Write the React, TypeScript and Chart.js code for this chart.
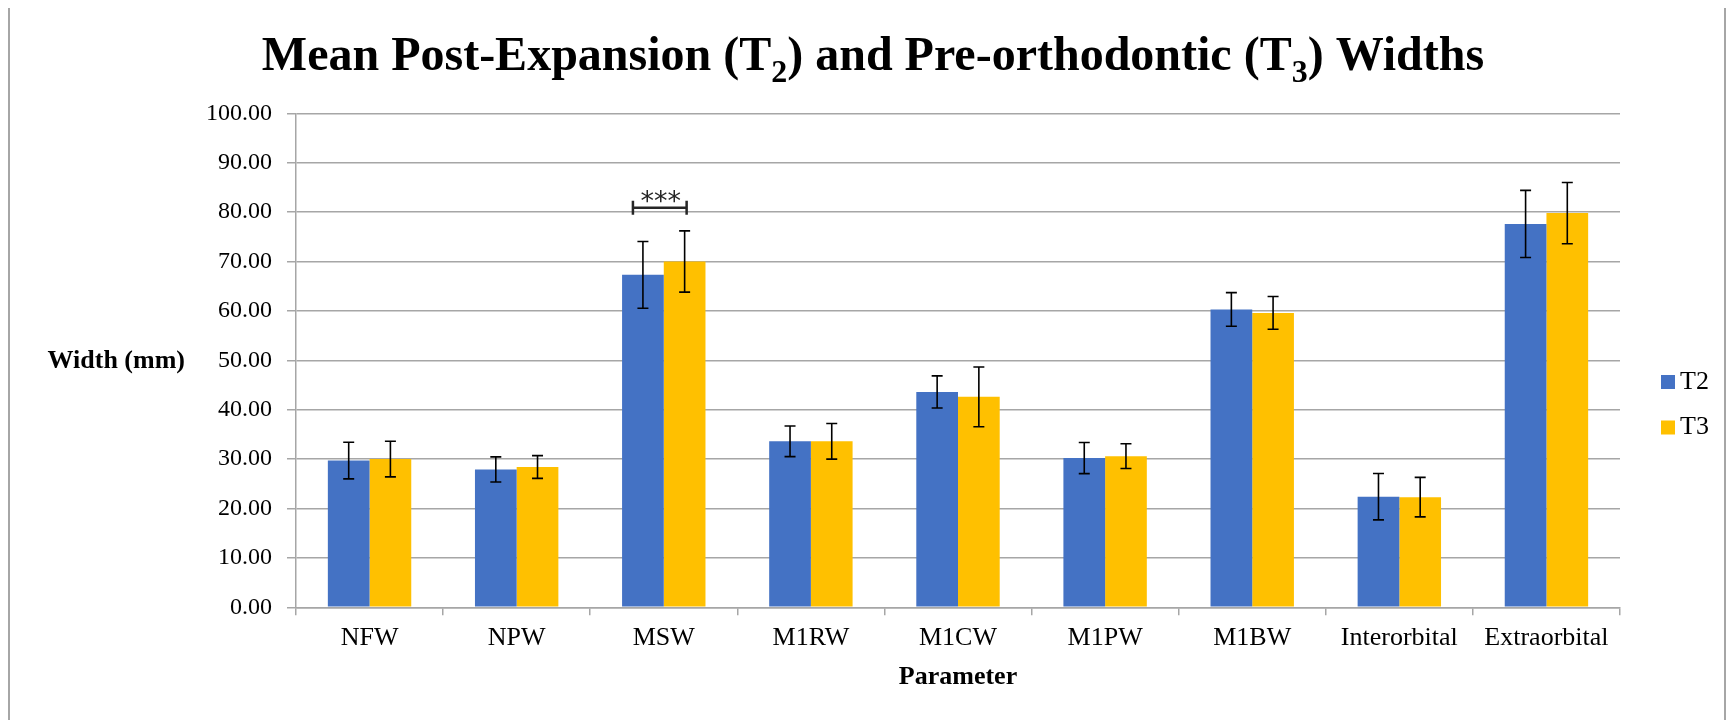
import React, { useEffect, useRef } from "react";
import { Chart, registerables } from "chart.js";

Chart.register(...registerables);

// ---- Data ----
const categories = ["NFW", "NPW", "MSW", "M1RW", "M1CW", "M1PW", "M1BW", "Interorbital", "Extraorbital"];
const seriesNames = ["T2", "T3"];
const t2Means = [29.7, 27.9, 67.3, 33.6, 43.6, 30.2, 60.3, 22.4, 77.6];
const t3Means = [30.0, 28.4, 70.0, 33.6, 42.6, 30.6, 59.6, 22.3, 79.8];
const t2Errors = [3.7, 2.55, 6.75, 3.1, 3.25, 3.15, 3.4, 4.7, 6.8];
const t3Errors = [3.6, 2.3, 6.2, 3.6, 6.05, 2.5, 3.3, 4.0, 6.2];
const significanceCategories = ["MSW"];
const significanceValues = [80.9];
const significanceLabels = ["***"];
const yMin = 0;
const yMax = 100;
const yStep = 10;
const titleParts = [
  { text: "Mean Post-Expansion (T", sub: false },
  { text: "2", sub: true },
  { text: ") and Pre-orthodontic (T", sub: false },
  { text: "3", sub: true },
  { text: ") Widths", sub: false },
];
const yAxisTitle = "Width (mm)";
const xAxisTitle = "Parameter";

const BLUE = "#4472C4";
const GOLD = "#FFC000";
const GRID = "#a6a6a6";
const SERIF = "'Liberation Serif', 'Times New Roman', serif";

const errorsBySeries = [t2Errors, t3Errors];
const colors = [BLUE, GOLD];

const decorPlugin = {
  id: "decor",
  afterDatasetsDraw(chart: any) {
    const ctx = chart.ctx;
    const ys = chart.scales.y;
    // error bars
    ctx.save();
    ctx.strokeStyle = "#000";
    ctx.lineWidth = 1.6;
    errorsBySeries.forEach((errs, di) => {
      const meta = chart.getDatasetMeta(di);
      meta.data.forEach((bar: any, i: number) => {
        const v = chart.data.datasets[di].data[i] as number;
        const e = errs[i];
        const yt = ys.getPixelForValue(v + e);
        const yb = ys.getPixelForValue(v - e);
        const x = bar.x;
        ctx.beginPath();
        ctx.moveTo(x, yt);
        ctx.lineTo(x, yb);
        ctx.moveTo(x - 5.5, yt);
        ctx.lineTo(x + 5.5, yt);
        ctx.moveTo(x - 5.5, yb);
        ctx.lineTo(x + 5.5, yb);
        ctx.stroke();
      });
    });
    ctx.restore();

    // significance brackets
    significanceCategories.forEach((cat, k) => {
      const idx = categories.indexOf(cat);
      const b0 = chart.getDatasetMeta(0).data[idx];
      const b1 = chart.getDatasetMeta(1).data[idx];
      const left = b0.x - 10;
      const right = b1.x + 2;
      const y = ys.getPixelForValue(significanceValues[k]);
      ctx.save();
      ctx.strokeStyle = "#262626";
      ctx.lineWidth = 2.5;
      ctx.beginPath();
      ctx.moveTo(left, y);
      ctx.lineTo(right, y);
      ctx.moveTo(left, y - 7);
      ctx.lineTo(left, y + 7);
      ctx.moveTo(right, y - 7);
      ctx.lineTo(right, y + 7);
      ctx.stroke();
      ctx.fillStyle = "#262626";
      ctx.font = "27px 'DejaVu Sans', sans-serif";
      ctx.textAlign = "center";
      ctx.textBaseline = "alphabetic";
      ctx.fillText(significanceLabels[k], (left + right) / 2 + 1, y + 2);
      ctx.restore();
    });
  },
  afterDraw(chart: any) {
    const ctx = chart.ctx;
    const area = chart.chartArea;
    ctx.save();
    // title with subscripts
    const mainFont = `bold 48px ${SERIF}`;
    const subFont = `bold 32px ${SERIF}`;
    let total = 0;
    const widths = titleParts.map((p) => {
      ctx.font = p.sub ? subFont : mainFont;
      const w = ctx.measureText(p.text).width;
      total += w;
      return w;
    });
    let x = chart.width / 2 + 6 - total / 2;
    const baseY = 63;
    ctx.fillStyle = "#000";
    ctx.textAlign = "left";
    ctx.textBaseline = "alphabetic";
    titleParts.forEach((p, i) => {
      ctx.font = p.sub ? subFont : mainFont;
      ctx.fillText(p.text, x, p.sub ? baseY + 12 : baseY);
      x += widths[i];
    });

    // y axis title (horizontal)
    ctx.font = `bold 26px ${SERIF}`;
    ctx.textAlign = "right";
    ctx.textBaseline = "middle";
    ctx.fillText(yAxisTitle, area.left - 111, (area.top + area.bottom) / 2 + 1);

    // x axis title
    ctx.textAlign = "center";
    ctx.font = `bold 26px ${SERIF}`;
    ctx.fillText(xAxisTitle, (area.left + area.right) / 2, 670);

    // legend
    const lx = area.right + 41;
    const ly0 = 375;
    seriesNames.forEach((name, i) => {
      const cy = ly0 + i * 45.5;
      ctx.fillStyle = colors[i];
      ctx.fillRect(lx, cy - 7, 14, 14);
      ctx.fillStyle = "#000";
      ctx.font = `26px ${SERIF}`;
      ctx.textAlign = "left";
      ctx.textBaseline = "middle";
      ctx.fillText(name, lx + 19, cy);
    });
    ctx.restore();
  },
};

export default function App() {
  const ref = useRef<HTMLCanvasElement | null>(null);

  useEffect(() => {
    if (!ref.current) return;
    const chart = new Chart(ref.current, {
      type: "bar",
      data: {
        labels: categories,
        datasets: [
          { label: seriesNames[0], data: t2Means, backgroundColor: BLUE, barPercentage: 1, categoryPercentage: 0.567 },
          { label: seriesNames[1], data: t3Means, backgroundColor: GOLD, barPercentage: 1, categoryPercentage: 0.567 },
        ],
      },
      options: {
        responsive: false,
        animation: false,
        devicePixelRatio: 1,
        layout: { padding: { top: 106.3, right: 104, bottom: 52.7, left: 0 } },
        plugins: {
          legend: { display: false },
          title: { display: false },
          tooltip: { enabled: false },
        },
        scales: {
          x: {
            grid: { display: true, drawOnChartArea: false, drawTicks: true, tickLength: 8, color: GRID, lineWidth: 1.5 },
            border: { display: true, color: GRID, width: 1.5 },
            ticks: {
              color: "#000",
              font: { family: SERIF, size: 26 },
              padding: 7,
              autoSkip: false,
              maxRotation: 0,
              minRotation: 0,
            },
            afterFit: (scale: any) => {
              scale.height = 60;
            },
          },
          y: {
            min: yMin,
            max: yMax,
            grid: { color: GRID, lineWidth: 1.5, tickLength: 9, drawTicks: true },
            border: { display: true, color: GRID, width: 1.5 },
            ticks: {
              stepSize: yStep,
              color: "#000",
              font: { family: SERIF, size: 24 },
              padding: 15,
              callback: (v: any) => Number(v).toFixed(2),
            },
            afterFit: (scale: any) => {
              scale.width = 286;
            },
          },
        },
      },
      plugins: [decorPlugin],
    });
    return () => chart.destroy();
  }, []);

  return (
    <div
      style={{
        width: 1714,
        height: 713,
        marginTop: -3,
        borderLeft: `2px solid ${GRID}`,
        borderTop: `2px solid ${GRID}`,
        borderRight: `2px solid ${GRID}`,
        background: "#fff",
      }}
    >
      <canvas ref={ref} width={1714} height={713} style={{ display: "block", width: 1714, height: 713 }} />
    </div>
  );
}
